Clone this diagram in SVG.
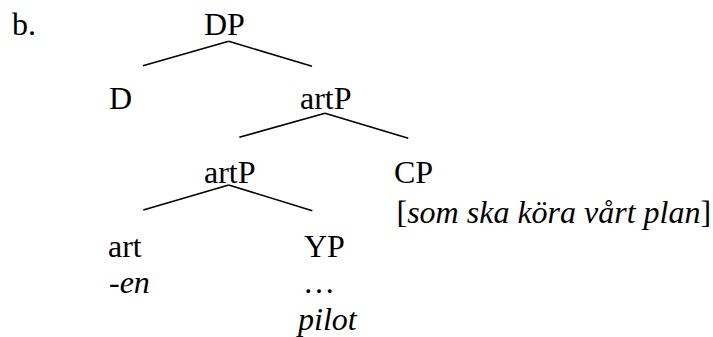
<svg xmlns="http://www.w3.org/2000/svg" width="713" height="337" viewBox="0 0 713 337">
<style>
text{font-family:'Liberation Serif','Times New Roman',Tinos,'Nimbus Roman','DejaVu Serif',serif;font-size:32px;fill:#000}
.i{font-style:italic}
line{stroke:#000;stroke-width:1.6}
</style>
<rect width="713" height="337" fill="#fff"/>
<g font-family="Liberation Serif">
<text x="12" y="35">b.</text>
<g id="DP"><text x="204" y="35">DP</text></g>
<g id="D"><text x="109" y="109">D</text></g>
<g id="artP1"><text x="300" y="109">artP</text></g>
<g id="artP2"><text x="204" y="183">artP</text></g>
<g id="CP"><text x="394" y="183">CP</text><text x="396.5" y="223">[<tspan class="i">som ska köra vårt plan</tspan>]</text></g>
<g id="art"><text x="108" y="257">art</text><text x="109" y="293">-<tspan class="i">en</tspan></text></g>
<g id="YP"><text x="304" y="257">YP</text><text x="303" y="293">…</text><text class="i" x="298" y="330">pilot</text></g>
</g>
<g id="connectors">
<line x1="228.7" y1="41.3" x2="143" y2="65.7"/>
<line x1="228.7" y1="41.3" x2="312" y2="66.3"/>
<line x1="325" y1="113.3" x2="239.3" y2="137.3"/>
<line x1="325" y1="113.3" x2="408.3" y2="138.3"/>
<line x1="228.7" y1="185" x2="143.3" y2="210"/>
<line x1="228.7" y1="185" x2="312.3" y2="210.7"/>
</g>
</svg>
